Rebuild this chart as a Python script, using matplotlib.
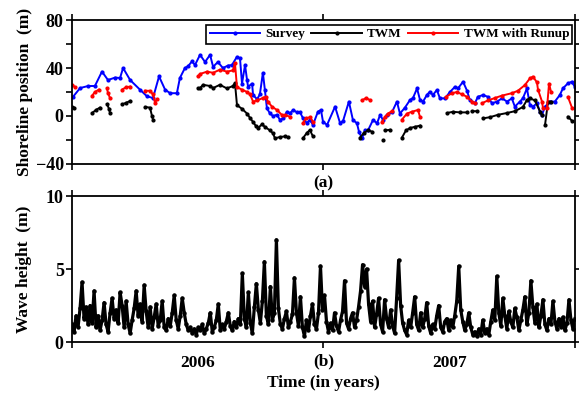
import numpy as np
import matplotlib.pyplot as plt
from matplotlib.ticker import MultipleLocator, FixedLocator, NullFormatter, FixedFormatter

plt.rcParams['font.family'] = ['Liberation Serif', 'DejaVu Serif']
plt.rcParams['font.weight'] = 'bold'
plt.rcParams['axes.labelweight'] = 'bold'

nan = np.nan

# Shoreline position (years since 2006-01-01, metres)
t_survey = [0.004, 0.032, 0.064, 0.091, 0.119, 0.143, 0.171, 0.191, 0.203, 0.231,
            0.270, 0.298, 0.322, 0.346, 0.370, 0.390, 0.417, 0.429, 0.449, 0.461,
            0.477, 0.489, 0.509, 0.529, 0.549, 0.561, 0.580, 0.600, 0.620, 0.636,
            0.656, 0.668, 0.676, 0.688, 0.696, 0.700, 0.716, 0.720, 0.736, 0.747,
            0.759, 0.767, 0.775, 0.787, 0.799, 0.815, 0.827, 0.839, 0.855, 0.867,
            0.879, 0.895, 0.907, 0.918, 0.934, 0.946, 0.958, 0.978, 0.990, 0.998,
            1.014, 1.046, 1.066, 1.078, 1.101, 1.117, 1.133, 1.141, 1.153, 1.165,
            1.177, 1.197, 1.213, 1.225, 1.237, 1.252, 1.272, 1.292, 1.304, 1.324,
            1.344, 1.356, 1.372, 1.384, 1.396, 1.411, 1.423, 1.435, 1.451, 1.463,
            1.483, 1.503, 1.523, 1.535, 1.555, 1.571, 1.582, 1.602, 1.614, 1.634,
            1.654, 1.670, 1.690, 1.710, 1.730, 1.749, 1.761, 1.781, 1.793, 1.809,
            1.821, 1.833, 1.849, 1.861, 1.869, 1.881, 1.901, 1.920, 1.940, 1.952,
            1.972, 1.988, 2.000]
survey = [16, 23.3, 25, 25, 37, 30, 32, 31.7, 40, 30,
          22, 16.4, 15, 33, 22, 19, 19, 31.7, 40, 41.4,
          45.5, 42.5, 51, 45, 51, 41, 45, 40, 42, 42.5,
          49.4, 48, 27, 42.5, 30, 24.4, 27, 17.5, 14, 18,
          36, 21.7, 6.4, 2.2, 0, 1, -3.3, -2, 3.6, 2.2,
          5, 3, 3, -1.7, -6, -3, -7.5, 3.6, 5, -4.7,
          -7.5, 7.8, -6, -4, 12, -3.3, -6, -13, -18.6, -12,
          -12, -3.3, -6, 0.8, -3.3, 0.8, 3, 12, 2, 7,
          13.3, 15, 23, 13.3, 12, 17.5, 20.3, 17.5, 21.7, 14.7,
          14.7, 20, 24.4, 23, 28.6, 21, 13.3, 10.6, 16, 17.5,
          16, 10.6, 12, 14.7, 12, 14.7, 7.8, 12, 14.7, 23,
          9, 7.8, 10.6, 3.6, 1, 7.8, 12, 12, 17.5, 23,
          27.2, 28.6, 24]

t_twm = [0.000, 0.008, nan, 0.080, 0.095, 0.111, nan, 0.139, 0.147, 0.151, nan,
         0.199, 0.215, 0.231, nan, 0.290, 0.310, 0.318, 0.322, nan,
         0.501, 0.509, 0.521, 0.549, 0.561, 0.588, 0.616, 0.640, 0.648, 0.656,
         0.676, 0.696, 0.708, 0.720, 0.732, 0.740, 0.755, 0.767, 0.787, 0.799,
         0.807, 0.827, 0.847, 0.859, nan,
         0.918, 0.934, 0.946, 0.958, nan, 1.145, 1.161, 1.177, 1.193, nan,
         1.237, nan, 1.244, 1.264, nan, 1.312, 1.328, 1.344, 1.364, 1.384, nan,
         1.491, 1.515, 1.543, 1.571, nan, 1.590, 1.610, nan,
         1.634, 1.662, 1.694, 1.730, 1.761, 1.793, 1.809, 1.821, 1.841, 1.861, 1.869, nan,
         1.881, 1.893, 1.905, nan, 1.972, 1.988]
twm = [7.5, 7, nan, 2.5, 5, 7, nan, 10, 6, 2.5, nan,
       9.7, 11, 12.5, nan, 7.5, 7, 0, -3, nan,
       23, 23.3, 26, 25, 23.3, 26, 23, 25, 27.5, 9,
       6, 2, -1.7, -5, -8.6, -10, -7, -9, -12, -14.4,
       -18.6, -17.5, -17, -17.5, nan,
       -18.6, -14, -11.7, -17, nan, -18, -14, -12, -13, nan,
       -20, nan, -12, -11.5, nan, -18, -12, -10, -9, -8, nan,
       2.5, 3.5, 3, 3, nan, 4, 4, nan,
       -2, -1, 1, 2.5, 4, 7.5, 13.3, 14.7, 13, 3.6, 0.8, nan,
       -7.5, 12, 12, nan, -0.6, -4]

t_runup = [0.000, 0.012, nan, 0.080, 0.091, 0.107, nan, 0.139, 0.143, 0.151, nan,
           0.199, 0.215, 0.231, nan, 0.290, 0.310, 0.322, 0.330, 0.338, nan,
           0.501, 0.509, 0.537, 0.561, 0.588, 0.616, 0.640, 0.648, 0.656, 0.676,
           0.696, 0.708, 0.720, 0.736, 0.759, 0.771, 0.779, 0.795, 0.815, 0.835,
           0.847, 0.867, nan,
           0.918, 0.930, 0.946, 0.958, nan, 1.153, 1.169, 1.185, nan,
           1.233, 1.244, 1.256, 1.272, nan, 1.312, 1.332, 1.352, 1.376, 1.384, nan,
           1.487, 1.511, 1.531, 1.551, 1.571, 1.590, 1.602, nan,
           1.630, 1.654, 1.682, 1.710, 1.749, 1.773, 1.801, 1.821, 1.833, 1.849,
           1.853, 1.869, 1.873, nan, 1.889, 1.897, 1.905, nan, 1.972, 1.988]
runup = [26, 24, nan, 17, 20, 22, nan, 23, 19, 15, nan,
         22, 24, 24.5, nan, 21, 21, 18, 11, 14, nan,
         33, 35, 37, 36, 38.6, 37, 38, 44, 24, 22,
         20, 18, 12, 13, 15, 16, 12, 7.8, 5, 0.8,
         0.8, -0.6, nan,
         -6, -2, -1, -4.7, nan, 13, 15, 13.3, nan,
         -5, -1, 2, 4, nan, -3, 2, 3.6, 5, -1, nan,
         16, 19, 20, 18, 16, 12, 10.6, nan,
         10.6, 13, 15, 17, 19, 21, 25.8, 31.4, 32.8, 28,
         22, 12, 6.4, nan, 7, 27, 20, nan, 16, 7]

# Significant wave height (m), evenly spaced over 2006-2007
wave = [1.2, 0.7, 1.8, 1.0, 2.3, 4.1, 1.6, 2.4, 1.2, 2.5,
        1.3, 3.5, 1.0, 1.8, 0.8, 1.5, 2.7, 1.2, 0.7, 2.0,
        3.0, 1.6, 2.2, 1.3, 3.4, 2.5, 1.0, 2.8, 1.2, 0.6,
        1.5, 2.3, 3.5, 1.8, 2.6, 1.4, 3.9, 2.1, 1.0, 2.4,
        0.9, 1.7, 2.6, 1.1, 1.5, 2.8, 1.0, 0.8, 1.6, 1.1,
        2.0, 3.2, 1.5, 0.9, 1.8, 3.0, 2.0, 1.2, 0.8, 1.0,
        0.6, 0.9, 0.5, 1.0, 0.8, 1.2, 0.6, 0.9, 1.3, 2.0,
        0.7, 1.0, 1.5, 2.6, 0.8, 1.2, 0.9, 1.4, 2.0, 1.1,
        0.8, 1.4, 1.0, 1.6, 1.2, 4.7, 1.6, 1.0, 3.4, 1.3,
        0.6, 2.4, 4.0, 2.2, 1.3, 2.8, 5.5, 1.8, 1.2, 3.8,
        1.5, 2.0, 7.0, 2.3, 1.2, 0.9, 1.6, 2.1, 1.0, 1.4,
        1.9, 4.4, 2.0, 1.1, 3.1, 1.0, 0.4, 1.5, 0.8, 1.8,
        2.6, 1.2, 0.9, 2.0, 5.2, 2.2, 3.2, 1.4, 0.7, 1.3,
        0.8, 2.0, 1.1, 0.7, 1.5, 2.1, 4.2, 1.3, 0.9, 1.6,
        2.0, 1.0, 1.5, 2.4, 3.5, 5.3, 3.8, 5.0, 2.6, 1.4,
        2.8, 1.0, 1.9, 3.0, 1.2, 0.7, 2.9, 1.6, 1.0, 2.2,
        1.1, 0.6, 3.0, 5.6, 2.5, 1.3, 0.8, 0.5, 1.5, 1.0,
        2.0, 3.1, 1.2, 0.8, 2.0, 1.0, 1.6, 2.7, 1.1, 0.6,
        1.2, 0.9, 1.8, 2.5, 1.0, 0.7, 1.4, 1.6, 0.8, 1.5,
        1.0, 1.8, 2.8, 5.2, 2.2, 1.4, 0.8, 1.2, 2.0, 1.0,
        0.5, 0.7, 0.4, 0.9, 0.5, 1.5, 0.6, 0.9, 0.5, 1.4,
        2.2, 1.5, 4.5, 2.0, 1.1, 3.0, 1.8, 0.9, 2.1, 1.4,
        1.0, 2.3, 1.7, 0.8, 1.5, 2.2, 3.1, 1.2, 2.0, 4.2,
        2.4, 1.3, 2.6, 1.0, 1.8, 2.9, 1.2, 0.8, 1.6, 1.2,
        2.8, 1.4, 0.9, 1.6, 1.0, 1.7, 0.8, 1.3, 2.9, 1.5,
        0.9, 1.6]

year_ticks = [2006, 2007, 2008]
year_labels = ['2006', '2007']

fig = plt.figure(figsize=(5.79, 3.98), dpi=100)
ax1 = fig.add_axes([0.1244, 0.588, 0.8686, 0.3617])
ax2 = fig.add_axes([0.1244, 0.1407, 0.8686, 0.3668])

ax1.plot(2006 + np.array(t_survey), survey, color='#0000ff', lw=1.4,
         marker='o', ms=2, label='Survey')
ax1.plot(2006 + np.array(t_twm), twm, color='black', lw=1.4,
         marker='o', ms=2, label='TWM')
ax1.plot(2006 + np.array(t_runup), runup, color='#ff0000', lw=1.4,
         marker='o', ms=2, label='TWM with Runup')

t_wave = np.linspace(2006, 2008, len(wave))
ax2.plot(t_wave, wave, color='black', lw=2.3, marker='o', ms=2.2)

ax1.set_ylim(-40, 80)
ax1.yaxis.set_major_locator(MultipleLocator(40))
ax1.yaxis.set_minor_locator(MultipleLocator(20))
ax2.set_ylim(0, 10)
ax2.yaxis.set_major_locator(MultipleLocator(5))

for ax in (ax1, ax2):
    ax.set_xlim(2006, 2008)
    ax.xaxis.set_major_locator(FixedLocator(year_ticks))
    ax.xaxis.set_major_formatter(NullFormatter())
    ax.tick_params(which='both', direction='out', length=4, width=1.2,
                   top=True, right=True, labelsize=13, pad=2)
    for s in ax.spines.values():
        s.set_linewidth(1.3)

ax2.xaxis.set_minor_locator(FixedLocator([2006.5, 2007.5]))
ax2.xaxis.set_minor_formatter(FixedFormatter(year_labels))
ax2.tick_params(axis='x', which='minor', length=0, pad=9, labelsize=12.5)

ax1.set_ylabel('Shoreline position  (m)', fontsize=12.5, labelpad=2)
ax2.set_ylabel('Wave height  (m)', fontsize=12.5, labelpad=10)
ax2.set_xlabel('Time (in years)', fontsize=12.5, labelpad=3)

ax1.text(0.5, -0.08, '(a)', transform=ax1.transAxes, ha='center', va='top', fontsize=12.5)
ax2.text(0.5, -0.075, '(b)', transform=ax2.transAxes, ha='center', va='top', fontsize=12.5)

leg = ax1.legend(loc='upper right', ncol=3, fontsize=9.5, handlelength=3.8,
                 columnspacing=0.5, handletextpad=0.4, borderpad=0.25,
                 fancybox=False, edgecolor='black', framealpha=1,
                 bbox_to_anchor=(1.0, 0.985), borderaxespad=0.2)
leg.get_frame().set_linewidth(1.2)

fig.savefig('out.png', dpi=100)
